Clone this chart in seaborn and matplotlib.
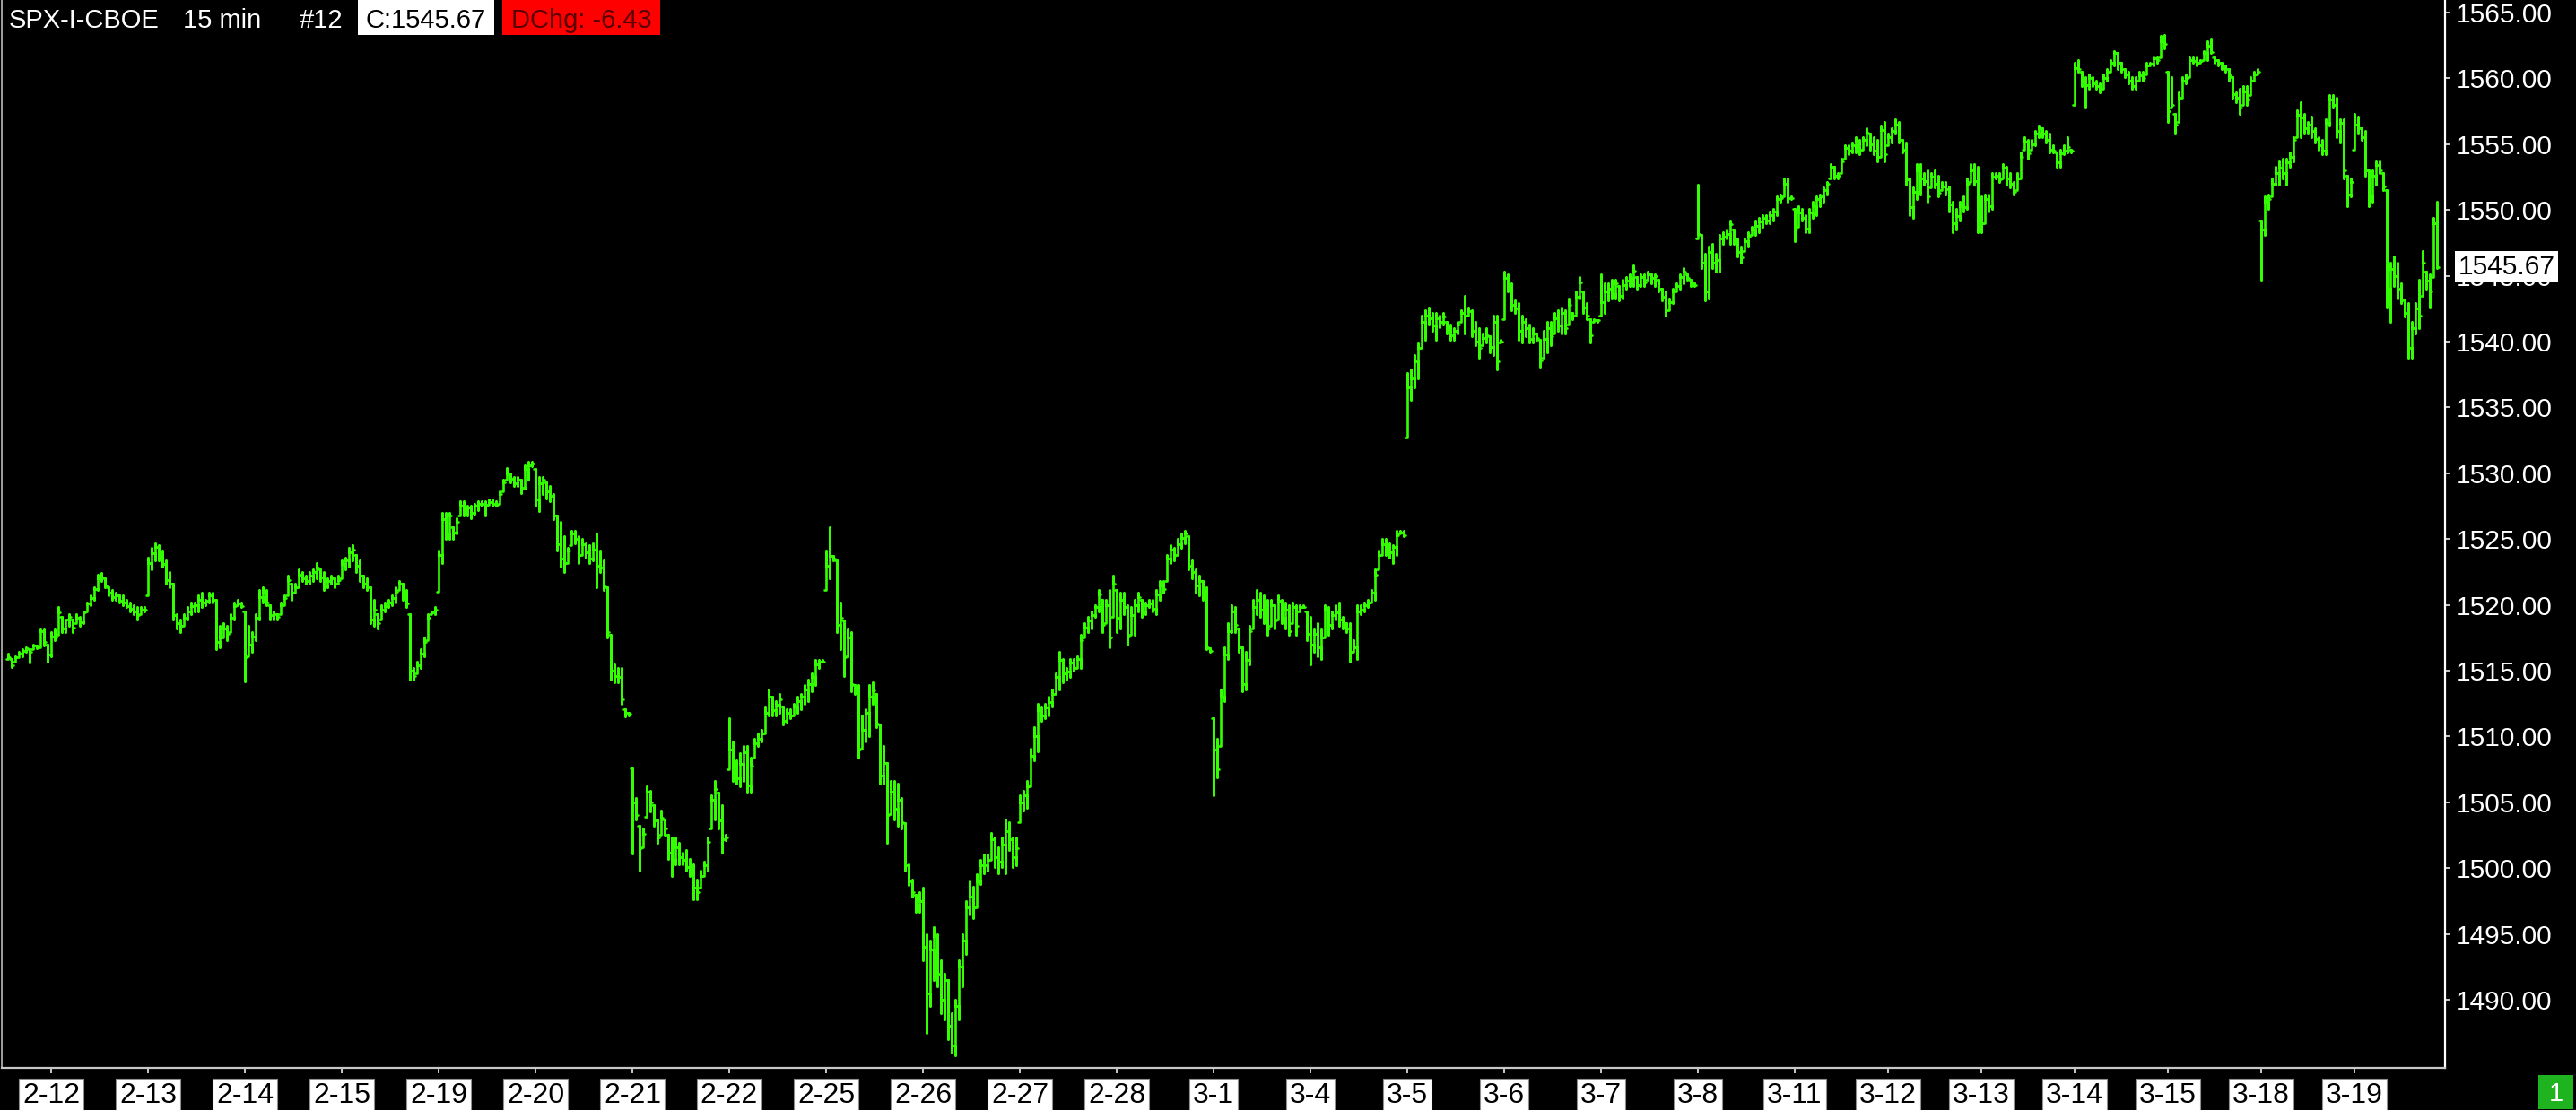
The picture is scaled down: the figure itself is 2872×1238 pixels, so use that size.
import numpy as np
import pandas as pd
import matplotlib
matplotlib.use("Agg")
import matplotlib.pyplot as plt
import seaborn as sns
from matplotlib.patches import Rectangle
from matplotlib.transforms import blended_transform_factory

# ---------------- data (15-min OHLC-style bars) ----------------
days = ['2-11', '2-12', '2-13', '2-14', '2-15', '2-19', '2-20', '2-21', '2-22', '2-25',
        '2-26', '2-27', '2-28', '3-1', '3-4', '3-5', '3-6', '3-7', '3-8', '3-11',
        '3-12', '3-13', '3-14', '3-15', '3-18', '3-19']

lows = [
    [1515.9,1515.3,1515.7,1516.0,1516.1,1516.4,1515.6,1516.6,1516.7,1516.8,1516.9,1515.7],
    [1516.1,1517.3,1517.7,1517.9,1517.9,1518.4,1517.9,1518.6,1518.4,1518.6,1519.5,1520.0,1520.4,1521.1,1521.8,1521.3,1520.7,1520.4,1520.4,1520.2,1520.0,1519.8,1519.5,1519.3,1518.9,1519.3,1519.5],
    [1520.7,1522.7,1523.4,1523.4,1522.9,1521.6,1521.3,1518.9,1518.2,1517.9,1518.4,1518.9,1519.3,1519.5,1519.5,1519.8,1520.0,1520.2,1520.2,1516.6,1516.8,1517.5,1517.3,1517.9,1518.9,1520.0,1519.8],
    [1514.2,1516.1,1516.4,1517.3,1518.9,1520.2,1520.0,1518.9,1518.9,1518.9,1519.3,1520.0,1520.7,1520.4,1520.9,1521.3,1521.8,1521.6,1521.6,1521.8,1522.0,1521.8,1521.1,1521.3,1521.6,1521.3,1521.6],
    [1522.0,1522.7,1522.9,1523.4,1522.5,1521.8,1521.3,1521.1,1518.6,1518.4,1518.2,1518.9,1519.5,1519.8,1520.0,1520.2,1521.1,1520.4,1519.8,1514.3,1514.3,1514.8,1515.2,1516.1,1517.3,1519.3,1519.3],
    [1521.0,1523.2,1525.0,1525.0,1525.0,1525.4,1526.8,1526.8,1526.8,1526.6,1526.9,1527.2,1527.5,1526.8,1527.6,1527.5,1527.5,1527.7,1528.6,1529.5,1529.3,1529.0,1529.0,1528.5,1528.8,1529.5,1530.5],
    [1527.5,1527.1,1528.4,1528.1,1527.9,1526.5,1524.1,1522.9,1522.5,1523.2,1524.5,1524.7,1523.2,1523.8,1523.6,1523.2,1523.4,1521.3,1522.5,1521.1,1517.5,1514.3,1514.1,1514.1,1512.5,1511.5,1511.6],
    [1501.1,1503.7,1499.8,1501.6,1503.9,1504.3,1503.2,1501.9,1502.5,1502.5,1500.7,1499.4,1500.3,1500.3,1500.3,1499.8,1499.4,1497.6,1497.6,1498.5,1499.4,1499.8,1503.0,1503.7,1503.0,1501.2,1502.1],
    [1507.5,1506.6,1506.4,1506.2,1506.6,1505.7,1505.7,1508.4,1509.3,1509.6,1510.2,1511.6,1511.6,1511.6,1511.8,1510.9,1511.1,1511.4,1511.6,1511.8,1512.1,1512.5,1512.7,1513.4,1513.9,1515.2,1515.7],
    [1521.1,1522.0,1523.4,1517.9,1516.6,1514.6,1516.1,1513.4,1513.2,1508.4,1509.1,1509.6,1510.0,1512.5,1510.7,1506.4,1506.4,1501.9,1504.1,1503.7,1503.2,1503.0,1499.8,1498.7,1497.8,1496.7,1496.7],
    [1493.0,1487.5,1489.5,1491.5,1491.0,1489.0,1488.5,1487.0,1486.0,1485.8,1488.5,1491.0,1493.5,1496.5,1496.2,1497.0,1498.8,1499.6,1499.8,1500.6,1500.1,1499.6,1500.1,1499.6,1501.4,1500.1,1500.2],
    [1503.5,1504.4,1504.6,1506.2,1508.2,1508.9,1511.2,1511.4,1511.6,1512.3,1513.2,1513.6,1514.1,1514.3,1514.5,1515.0,1515.2,1515.2,1517.5,1517.9,1518.2,1519.1,1519.5,1517.9,1518.6,1516.8,1519.1],
    [1517.9,1518.2,1519.3,1517.0,1517.7,1517.7,1519.5,1519.1,1519.3,1519.8,1519.5,1519.3,1520.4,1520.9,1521.8,1523.2,1523.4,1523.8,1524.3,1524.7,1522.7,1522.0,1520.9,1520.7,1520.4,1516.6,1516.4],
    [1505.5,1506.9,1509.3,1512.7,1515.9,1517.9,1517.9,1516.4,1513.4,1513.6,1515.5,1518.2,1519.3,1519.1,1518.6,1517.7,1518.4,1518.2,1518.9,1518.6,1518.2,1517.7,1518.6,1517.7,1519.5,1519.8,1517.3],
    [1515.5,1516.4,1516.1,1515.9,1517.5,1517.7,1518.2,1518.9,1518.4,1518.2,1517.9,1515.7,1516.4,1515.9,1519.3,1519.5,1519.8,1520.2,1520.4,1522.7,1523.8,1523.8,1523.6,1523.2,1523.8,1525.4,1525.2],
    [1532.7,1535.6,1536.5,1537.2,1539.5,1540.1,1541.3,1540.8,1540.1,1541.1,1541.3,1540.6,1540.1,1540.1,1540.6,1541.5,1540.6,1542.0,1540.4,1539.7,1538.8,1539.7,1539.9,1539.2,1539.0,1537.9,1539.9],
    [1541.7,1543.8,1542.4,1542.2,1540.1,1539.9,1540.4,1539.9,1539.9,1540.1,1538.1,1538.8,1539.2,1539.7,1540.6,1540.8,1540.6,1540.6,1541.3,1541.7,1542.0,1543.3,1542.2,1541.7,1539.9,1541.5,1541.5],
    [1542.0,1542.2,1543.1,1543.3,1543.3,1543.1,1543.3,1544.0,1544.2,1544.2,1544.0,1544.2,1544.2,1544.7,1544.4,1544.2,1543.8,1543.1,1542.0,1542.4,1542.9,1543.8,1544.0,1544.4,1544.7,1544.2,1544.2],
    [1547.8,1545.6,1543.1,1543.3,1545.6,1545.3,1545.3,1547.4,1547.8,1547.4,1547.4,1546.5,1546.0,1546.9,1547.2,1548.1,1548.1,1548.3,1548.7,1549.0,1549.0,1549.2,1549.6,1550.6,1551.0,1550.6,1550.8],
    [1547.6,1548.7,1549.2,1548.3,1548.3,1549.4,1549.6,1550.3,1550.6,1551.2,1552.4,1552.4,1552.4,1552.8,1553.9,1554.2,1554.4,1554.4,1554.2,1554.6,1554.9,1554.6,1554.2,1553.7,1554.0,1553.7],
    [1554.9,1555.1,1555.8,1555.1,1554.4,1551.9,1549.6,1549.4,1550.8,1551.2,1551.9,1550.6,1551.7,1551.7,1551.0,1551.5,1551.2,1549.9,1548.3,1548.5,1549.2,1549.9,1550.1,1552.1,1551.9,1548.3],
    [1548.3,1549.0,1549.9,1550.1,1552.4,1552.1,1552.4,1551.9,1551.7,1551.2,1551.5,1552.4,1554.6,1553.9,1554.6,1554.9,1555.5,1555.5,1555.1,1554.4,1554.4,1553.3,1553.3,1554.2,1554.4,1554.4],
    [1558.0,1560.5,1559.4,1557.8,1559.2,1559.4,1559.2,1558.9,1559.2,1559.8,1560.5,1561.0,1560.7,1560.5,1560.1,1559.6,1559.2,1559.2,1559.8,1559.8,1560.3,1561.0,1561.0,1561.2,1561.6,1562.3],
    [1556.7,1557.8,1555.8,1556.7,1558.5,1559.6,1560.1,1561.2,1561.0,1561.2,1561.4,1561.4,1561.9,1561.2,1561.0,1560.7,1560.5,1559.8,1558.5,1558.2,1557.3,1558.0,1558.0,1558.7,1559.8,1560.3],
    [1544.7,1548.1,1550.1,1551.0,1551.9,1551.9,1552.4,1551.9,1553.3,1553.7,1555.5,1555.5,1555.8,1555.8,1555.5,1555.1,1554.6,1554.2,1554.2,1556.4,1557.8,1555.5,1555.1,1552.4,1550.3,1551.0],
    [1554.6,1555.8,1555.3,1552.6,1550.3,1550.6,1551.9,1552.8,1551.5,1542.6,1541.5,1544.2,1543.3,1542.9,1541.9,1538.8,1538.8,1540.6,1541.0,1543.5,1544.0,1542.6,1544.9,1545.6],
]

highs = [
    [1516.3,1515.9,1516.1,1516.4,1516.6,1516.8,1516.6,1517.0,1516.9,1518.2,1518.2,1517.0],
    [1517.9,1518.2,1519.8,1519.1,1518.9,1519.3,1518.9,1519.3,1519.1,1519.5,1520.2,1520.7,1521.3,1522.3,1522.4,1522.0,1521.3,1521.1,1520.9,1520.7,1520.7,1520.4,1520.2,1520.0,1519.8,1519.8,1519.8],
    [1523.6,1524.3,1524.7,1524.5,1524.1,1523.4,1522.5,1521.6,1519.3,1518.9,1519.3,1519.8,1520.2,1520.2,1520.7,1520.9,1520.4,1520.9,1520.9,1520.4,1518.4,1518.6,1518.4,1519.3,1520.2,1520.4,1520.2],
    [1519.5,1518.4,1517.9,1519.3,1521.1,1521.3,1521.1,1520.0,1519.5,1519.3,1520.2,1520.7,1522.2,1521.6,1521.6,1522.7,1522.5,1522.2,1522.5,1522.7,1523.2,1522.7,1522.5,1522.0,1522.2,1522.0,1522.2],
    [1523.4,1523.6,1524.3,1524.5,1523.8,1523.4,1522.2,1522.0,1521.3,1520.4,1519.3,1520.0,1520.2,1520.4,1520.7,1521.3,1521.8,1521.6,1521.1,1519.3,1515.2,1515.7,1516.6,1517.5,1519.3,1519.5,1519.8],
    [1524.1,1527.0,1527.0,1527.0,1525.9,1526.6,1527.9,1527.9,1527.5,1527.5,1527.7,1527.9,1527.9,1527.9,1528.0,1528.0,1527.9,1528.6,1529.5,1530.4,1530.0,1529.7,1529.7,1529.5,1530.6,1530.9,1530.9],
    [1530.3,1529.7,1529.7,1529.3,1529.0,1528.4,1526.8,1526.3,1525.2,1524.3,1525.6,1525.6,1525.2,1525.0,1524.7,1524.5,1524.7,1525.4,1524.1,1523.4,1521.3,1517.7,1515.5,1515.2,1515.2,1512.1,1511.8],
    [1507.6,1505.3,1503.2,1503.0,1506.2,1505.9,1504.8,1503.7,1504.4,1503.7,1502.5,1502.3,1502.3,1501.9,1501.2,1501.4,1500.7,1500.3,1499.1,1499.8,1500.5,1502.3,1505.5,1506.6,1505.7,1504.8,1502.5],
    [1511.4,1509.6,1508.2,1508.7,1509.3,1509.3,1508.4,1509.8,1510.2,1510.5,1512.3,1513.6,1513.0,1512.7,1513.2,1512.3,1512.1,1512.1,1512.5,1513.0,1513.2,1513.9,1514.3,1514.8,1515.8,1515.8,1515.8],
    [1524.1,1525.9,1523.7,1523.4,1520.2,1518.8,1518.2,1517.9,1513.9,1513.9,1511.6,1512.1,1513.9,1514.1,1513.2,1510.9,1509.3,1508.0,1506.6,1506.6,1506.4,1505.3,1503.4,1500.3,1499.1,1498.0,1498.2],
    [1498.5,1495.0,1494.5,1495.5,1495.0,1493.0,1492.0,1491.5,1489.0,1490.0,1493.0,1495.0,1497.5,1499.0,1498.6,1499.5,1500.6,1501.0,1501.0,1502.7,1502.3,1501.6,1502.3,1503.7,1503.5,1502.3,1502.3],
    [1505.5,1505.9,1506.6,1509.1,1510.7,1512.5,1512.3,1512.5,1513.0,1513.6,1514.8,1516.4,1515.9,1515.2,1515.9,1515.9,1516.1,1517.7,1518.6,1519.1,1519.5,1520.0,1521.1,1520.4,1520.4,1521.1,1522.2],
    [1521.1,1520.9,1520.9,1520.0,1519.8,1520.4,1520.9,1520.4,1520.2,1520.4,1520.4,1521.1,1521.8,1521.8,1523.8,1524.5,1524.3,1525.0,1525.4,1525.6,1525.2,1523.4,1522.7,1522.2,1521.8,1521.3,1516.7],
    [1511.4,1509.8,1513.6,1516.8,1518.6,1520.0,1519.8,1518.2,1516.8,1516.4,1518.4,1520.4,1521.1,1520.9,1520.7,1520.4,1520.4,1520.0,1520.7,1520.4,1520.2,1520.0,1520.2,1520.0,1520.0,1520.0,1519.5],
    [1519.1,1518.2,1518.6,1518.2,1520.0,1519.8,1519.5,1520.0,1520.2,1519.1,1518.6,1518.6,1517.3,1520.0,1520.0,1520.2,1520.4,1521.1,1522.7,1524.1,1525.0,1525.0,1524.7,1524.5,1525.6,1525.6,1525.6],
    [1537.6,1537.9,1539.0,1539.9,1542.0,1542.4,1542.6,1542.2,1542.2,1542.0,1542.2,1541.5,1541.3,1541.0,1541.5,1542.4,1543.5,1542.6,1542.4,1541.5,1541.0,1540.6,1541.0,1540.4,1542.0,1542.0,1540.1],
    [1545.3,1545.1,1544.4,1543.1,1542.9,1542.0,1541.7,1541.3,1541.0,1540.6,1540.1,1540.8,1541.5,1541.5,1542.2,1542.4,1542.6,1542.4,1543.3,1542.2,1543.8,1544.9,1543.8,1542.9,1541.7,1541.7,1541.6],
    [1545.1,1544.4,1544.4,1544.7,1544.7,1544.2,1544.7,1544.9,1545.1,1545.8,1544.9,1545.1,1545.1,1545.3,1545.1,1545.1,1544.7,1544.0,1543.8,1543.3,1544.0,1544.4,1545.1,1545.6,1545.1,1544.7,1544.4],
    [1551.9,1548.1,1546.7,1547.2,1547.4,1546.7,1548.1,1548.3,1548.5,1549.2,1548.5,1547.8,1547.2,1547.8,1548.3,1548.7,1549.2,1549.4,1549.6,1549.6,1549.9,1550.1,1551.0,1551.2,1552.4,1552.4,1551.0],
    [1550.1,1550.3,1550.1,1549.6,1550.1,1550.6,1551.0,1551.2,1551.7,1552.1,1553.5,1553.3,1552.8,1553.9,1554.9,1554.9,1555.1,1555.5,1555.3,1555.5,1556.2,1555.8,1555.5,1555.3,1556.4,1556.7],
    [1555.8,1556.2,1556.9,1556.7,1555.3,1555.1,1552.4,1551.7,1553.5,1553.5,1552.8,1553.0,1552.8,1553.0,1552.6,1552.1,1552.1,1551.8,1550.6,1550.1,1550.6,1551.0,1552.4,1553.5,1553.5,1553.3],
    [1551.0,1551.2,1551.2,1552.8,1552.8,1552.8,1553.5,1553.3,1552.8,1552.1,1552.8,1554.4,1555.5,1555.3,1555.3,1556.0,1556.4,1556.2,1556.0,1555.8,1554.9,1554.4,1554.6,1554.9,1555.5,1554.6],
    [1561.2,1561.4,1560.5,1560.1,1560.3,1560.1,1559.8,1559.6,1560.3,1560.7,1561.4,1562.1,1561.9,1561.2,1560.7,1560.5,1560.1,1560.1,1560.5,1560.5,1561.2,1561.2,1561.6,1561.6,1563.2,1563.3],
    [1560.5,1560.1,1557.3,1558.9,1560.1,1560.3,1561.6,1561.6,1561.6,1561.4,1562.1,1562.8,1563.0,1561.6,1561.4,1561.2,1561.0,1560.7,1560.1,1558.9,1559.2,1559.4,1559.4,1560.1,1560.5,1560.7],
    [1549.2,1551.0,1551.2,1552.4,1553.3,1553.7,1553.9,1553.9,1554.4,1555.5,1557.6,1558.2,1557.3,1556.7,1557.1,1556.2,1555.5,1555.3,1556.9,1558.7,1558.7,1558.5,1556.9,1556.9,1552.6,1552.4],
    [1557.3,1557.1,1556.2,1556.0,1553.0,1553.0,1553.7,1553.7,1552.8,1551.5,1546.0,1546.5,1546.0,1544.4,1543.1,1542.9,1541.5,1542.9,1544.7,1546.9,1545.3,1545.1,1549.4,1550.6],
]

closes = [
    [1516.0,1515.4,1516.0,1516.3,1516.5,1516.7,1516.4,1516.9,1516.8,1518.0,1517.2,1516.2],
    [1517.6,1517.5,1519.4,1518.2,1518.9,1519.1,1518.3,1519.0,1518.7,1519.4,1520.1,1520.5,1521.2,1522.0,1522.1,1521.5,1520.9,1520.6,1520.7,1520.3,1520.2,1519.9,1519.7,1519.5,1519.2,1519.6,1519.6],
    [1523.2,1523.9,1524.4,1523.7,1523.1,1521.9,1521.6,1519.2,1518.6,1518.4,1519.0,1519.5,1519.9,1520.0,1520.4,1520.2,1520.3,1520.7,1520.4,1517.2,1517.5,1518.2,1517.8,1519.0,1519.9,1520.1,1519.9],
    [1516.0,1517.0,1517.6,1519.0,1520.6,1520.9,1520.2,1519.2,1519.3,1519.1,1520.0,1520.5,1521.9,1520.9,1521.3,1522.3,1522.0,1521.8,1522.2,1522.5,1522.8,1522.1,1521.5,1521.8,1522.0,1521.6,1521.9],
    [1523.1,1523.4,1524.0,1524.2,1523.0,1522.2,1521.6,1521.3,1518.9,1519.6,1518.6,1519.6,1519.9,1520.2,1520.5,1521.0,1521.6,1521.0,1520.1,1515.0,1514.6,1515.4,1516.3,1517.2,1519.0,1519.4,1519.6],
    [1523.8,1526.5,1525.4,1526.8,1525.5,1526.3,1527.5,1527.2,1527.4,1527.0,1527.5,1527.7,1527.7,1527.6,1527.8,1527.7,1527.6,1528.4,1529.3,1530.0,1529.6,1529.2,1529.5,1528.9,1530.3,1530.6,1530.7],
    [1528.0,1529.2,1529.5,1528.6,1528.3,1526.8,1524.6,1523.5,1523.2,1524.1,1525.4,1525.0,1523.8,1524.6,1524.0,1523.5,1524.2,1523.0,1522.8,1521.4,1517.9,1515.0,1514.6,1514.5,1512.8,1511.8,1511.7],
    [1505.0,1504.0,1501.5,1502.6,1505.8,1505.0,1503.6,1502.3,1503.8,1503.0,1501.2,1500.6,1501.6,1500.8,1500.6,1500.1,1499.8,1498.5,1498.2,1499.4,1500.2,1502.0,1505.2,1506.0,1503.6,1502.2,1502.3],
    [1509.0,1507.5,1506.8,1507.9,1508.8,1506.3,1507.8,1509.5,1509.8,1510.2,1511.8,1513.0,1512.0,1512.4,1512.8,1511.2,1511.8,1511.6,1512.3,1512.7,1513.0,1513.6,1514.0,1514.5,1515.5,1515.7,1515.7],
    [1523.0,1523.7,1523.5,1518.5,1519.0,1516.0,1517.5,1514.0,1513.6,1509.0,1510.5,1511.8,1513.0,1513.5,1511.0,1507.0,1508.0,1504.0,1505.8,1504.5,1505.2,1503.5,1500.2,1499.0,1498.2,1497.2,1497.5],
    [1494.0,1490.5,1493.8,1494.8,1492.0,1490.0,1491.5,1488.0,1486.5,1489.5,1492.5,1494.5,1497.0,1497.8,1497.0,1499.0,1500.2,1500.2,1500.6,1502.2,1500.8,1500.5,1501.8,1502.8,1502.2,1500.8,1501.5],
    [1505.0,1505.5,1506.2,1508.5,1510.0,1512.0,1511.6,1512.2,1512.6,1513.2,1514.5,1515.8,1514.8,1514.9,1515.6,1515.2,1515.9,1517.3,1518.3,1518.8,1519.2,1519.8,1520.8,1518.5,1520.0,1517.5,1521.6],
    [1519.0,1520.4,1519.8,1517.6,1519.2,1520.0,1520.6,1519.5,1520.0,1520.1,1519.7,1520.8,1521.5,1521.2,1523.5,1524.2,1523.8,1524.6,1525.1,1525.4,1523.0,1522.5,1521.5,1521.8,1520.8,1516.8,1516.5],
    [1509.0,1507.5,1513.0,1516.2,1518.0,1519.5,1518.5,1516.8,1514.0,1515.8,1518.0,1519.8,1520.4,1519.6,1519.0,1518.2,1520.0,1518.8,1520.3,1519.0,1519.6,1518.0,1519.8,1518.4,1519.8,1519.8,1517.8],
    [1517.0,1517.8,1516.8,1517.5,1519.6,1518.5,1519.2,1519.4,1518.9,1518.6,1518.2,1516.4,1516.8,1519.5,1519.6,1520.0,1520.2,1520.9,1522.3,1523.8,1524.6,1524.2,1524.0,1524.4,1525.3,1525.5,1525.3],
    [1536.5,1537.2,1538.5,1539.5,1541.5,1542.0,1541.8,1541.2,1541.8,1541.5,1541.9,1540.9,1540.5,1540.8,1541.3,1542.2,1542.0,1542.3,1540.8,1540.0,1539.5,1540.3,1540.5,1539.6,1541.5,1538.5,1540.0],
    [1544.8,1544.2,1542.8,1542.5,1540.8,1541.5,1541.0,1540.2,1540.6,1540.3,1538.6,1540.2,1541.0,1540.4,1541.8,1541.2,1542.2,1541.0,1542.8,1542.0,1543.4,1544.5,1542.6,1542.0,1540.5,1541.6,1541.6],
    [1543.0,1543.8,1544.0,1543.6,1544.4,1543.5,1544.3,1544.6,1544.8,1545.4,1544.3,1544.9,1544.5,1545.1,1544.8,1545.0,1544.0,1543.4,1542.4,1543.0,1543.8,1544.2,1544.9,1545.3,1544.8,1544.4,1544.3],
    [1548.2,1546.0,1543.8,1546.8,1546.0,1546.2,1547.8,1548.0,1548.2,1548.9,1547.8,1546.8,1546.4,1547.6,1548.0,1548.5,1548.8,1549.1,1549.4,1549.2,1549.6,1549.9,1550.8,1550.9,1552.0,1550.9,1550.9],
    [1548.5,1549.8,1549.4,1548.6,1549.8,1550.3,1550.8,1551.0,1551.5,1552.0,1553.3,1552.6,1552.6,1553.7,1554.7,1554.5,1554.9,1555.2,1554.6,1555.3,1555.9,1555.0,1554.5,1554.0,1556.1,1554.2],
    [1555.5,1556.0,1556.5,1555.3,1554.6,1552.3,1550.2,1551.4,1553.0,1552.4,1552.2,1551.0,1552.5,1552.0,1551.3,1551.8,1551.6,1550.4,1549.0,1549.5,1550.3,1550.2,1552.0,1553.0,1552.2,1548.8],
    [1549.0,1550.8,1550.3,1552.5,1552.6,1552.3,1553.2,1552.4,1552.0,1551.4,1552.4,1554.0,1555.2,1554.3,1555.0,1555.8,1556.2,1555.8,1555.3,1554.6,1554.5,1553.6,1554.3,1554.5,1554.8,1554.5],
    [1560.8,1560.7,1559.8,1559.5,1560.0,1559.6,1559.4,1559.2,1560.0,1560.5,1561.2,1561.9,1561.2,1560.7,1560.3,1559.8,1559.4,1559.8,1560.2,1560.0,1561.0,1561.1,1561.5,1561.4,1562.8,1562.6],
    [1557.5,1558.0,1556.5,1558.5,1559.8,1560.0,1561.4,1561.3,1561.2,1561.3,1561.9,1562.5,1562.0,1561.4,1561.2,1560.9,1560.7,1560.2,1558.8,1558.5,1557.8,1559.0,1558.4,1559.8,1560.3,1560.5],
    [1548.5,1550.6,1550.8,1552.0,1552.8,1553.2,1552.8,1553.6,1554.0,1555.3,1557.2,1557.0,1556.2,1556.5,1556.0,1555.4,1554.9,1554.5,1556.6,1558.4,1558.0,1556.0,1556.6,1553.0,1551.2,1552.1],
    [1556.5,1556.2,1555.5,1553.0,1551.0,1552.6,1553.4,1553.0,1551.8,1544.0,1545.5,1545.0,1544.0,1543.2,1542.2,1539.5,1541.0,1542.5,1542.0,1546.0,1544.6,1543.8,1549.0,1545.67],
]

y_ticks = [1490, 1495, 1500, 1505, 1510, 1515, 1520, 1525, 1530, 1535, 1540, 1545, 1550, 1555, 1560, 1565]
last_price = 1545.67
header_symbol = 'SPX-I-CBOE'
header_period = '15 min'
header_num = '#12'
header_close = 'C:1545.67'
header_dchg = 'DChg: -6.43'

# ---------------- style ----------------
sns.set_theme(style='dark')
plt.rcParams['font.family'] = ['Liberation Sans', 'DejaVu Sans']

W, H = 2872, 1238
GREEN = '#33ff00'
fig = plt.figure(figsize=(W / 100, H / 100), dpi=100, facecolor='black')
ax = fig.add_axes([2 / W, (H - 1191) / H, 2724 / W, 1191 / H])
ax.set_facecolor('black')

# ---------------- build bar paths ----------------
rows = []
day_start = []
k = 0
prev_c = None
for lo_d, hi_d, c_d in zip(lows, highs, closes):
    day_start.append(k)
    for lo, hi, c in zip(lo_d, hi_d, c_d):
        o = lo if prev_c is None else min(max(prev_c, lo), hi)
        cc = min(max(c, lo), hi)
        for x, y in [(k - 0.5, o), (k, o), (k, lo), (k, hi), (k, cc), (k + 0.5, cc)]:
            rows.append((k, x, y))
        prev_c = c
        k += 1
df = pd.DataFrame(rows, columns=['bar', 'x', 'y'])

sns.lineplot(data=df, x='x', y='y', units='bar', estimator=None, sort=False,
             color=GREEN, linewidth=1.9, ax=ax, legend=False)

ax.set_xlim(-1.75, 679.25)
ax.set_ylim(1484.82, 1565.95)
ax.set_xlabel('')
ax.set_ylabel('')
ax.grid(False)

# spines
ax.spines['top'].set_visible(False)
ax.spines['left'].set_color('#a0a0a0')
ax.spines['left'].set_linewidth(1.4)
ax.spines['bottom'].set_color('#c8c8c8')
ax.spines['bottom'].set_linewidth(1.6)
ax.spines['right'].set_visible(True)
ax.spines['right'].set_color('white')
ax.spines['right'].set_linewidth(1.6)

# y axis on the right
ax.yaxis.tick_right()
ax.set_yticks(y_ticks)
ax.set_yticklabels([f'{v:.2f}' for v in y_ticks])
ax.tick_params(axis='y', colors='white', labelcolor='white', labelsize=21.5,
               length=4.3, width=1.1, pad=4, direction='out', right=True, left=False)

# x axis: day starts
ax.set_xticks(day_start[1:])
ax.set_xticklabels(days[1:])
ax.tick_params(axis='x', colors='#c8c8c8', labelcolor='black', labelsize=23,
               length=4.5, width=1.4, pad=7, direction='out', bottom=True)
for lbl in ax.get_xticklabels():
    lbl.set_fontfamily(['Liberation Sans Narrow', 'DejaVu Sans Condensed', 'Liberation Sans', 'DejaVu Sans'])
    lbl.set_bbox(dict(facecolor='white', edgecolor='#909090', linewidth=0.8,
                      boxstyle='square,pad=0.12'))

# last-price box on the right axis
tr = blended_transform_factory(fig.transFigure, ax.transData)
ax.text(2794.5 / W, last_price, f'{last_price:.2f}', transform=tr, ha='center', va='center',
        fontsize=21.5, color='black', zorder=10, clip_on=False,
        bbox=dict(facecolor='white', edgecolor='none', boxstyle='square,pad=0.12'))

# ---------------- header ----------------
def fig_box(x0, y0, x1, y1, color):
    fig.add_artist(Rectangle((x0 / W, 1 - y1 / H), (x1 - x0) / W, (y1 - y0) / H,
                             transform=fig.transFigure, facecolor=color,
                             edgecolor='none', zorder=5))

def fig_txt(x, y, s, **kw):
    fig.text(x / W, 1 - y / H, s, zorder=6, **kw)

fs_head = 21
fig_txt(10, 31, header_symbol, color='white', fontsize=fs_head, va='baseline', ha='left')
fig_txt(204, 31, header_period, color='white', fontsize=fs_head, va='baseline', ha='left')
fig_txt(334, 31, header_num, color='white', fontsize=fs_head, va='baseline', ha='left')
fig_box(399, 0, 551, 39, 'white')
fig_txt(475, 31, header_close, color='black', fontsize=fs_head, va='baseline', ha='center')
fig_box(560, 0, 736, 39, '#ff0000')
fig_txt(648, 31, header_dchg, color='#5a0000', fontsize=fs_head, va='baseline', ha='center')

# green marker box bottom-right
fig_box(2830, 1199, 2869, 1237, '#1fb41f')
fig_txt(2849.5, 1228, '1', color='white', fontsize=21, va='baseline', ha='center')

fig.savefig('out.png', dpi=100, facecolor='black')
